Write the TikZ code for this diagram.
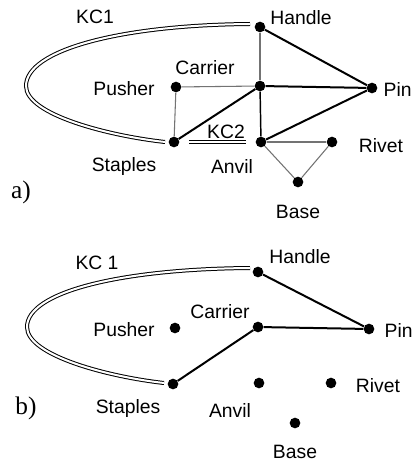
\documentclass[tikz,border=0pt]{standalone}
\usepackage{fontspec}
\setmainfont{Liberation Sans}
\newfontfamily\partfont{Liberation Serif}
\usetikzlibrary{positioning}
\tikzstyle{part} = [circle, fill=black, inner sep=0pt, minimum size=8pt]
\tikzstyle{partlbl} = [font=\fontsize{14.5}{16}\selectfont, inner sep=1pt]
\tikzstyle{tag} = [font=\partfont\fontsize{19}{21}\selectfont, inner sep=1pt]
\tikzstyle{strong} = [line width=1.5pt]
\tikzstyle{weak} = [line width=0.8pt, draw=black!55]
\tikzstyle{kc} = [double, double distance=1.5pt, line width=0.75pt]

\begin{document}
\begin{tikzpicture}[x=0.75pt, y=-0.75pt]
        \useasboundingbox (0,0) rectangle (412,463);

        % a) liaison graph
        \node (handle) [part] at (260,27) {};
        \node (pusher) [part] at (176,87) {};
        \node (carrier) [part] at (260,86) {};
        \node (pin) [part] at (372,88) {};
        \node (staples) [part] at (174,142) {};
        \node (anvil) [part] at (261,142) {};
        \node (rivet) [part] at (332,142) {};
        \node (base) [part] at (298,182) {};

        \node (kc1lbl) [partlbl] at (95,17) {KC1};
        \node (handlelbl) [partlbl] at (301,18) {Handle};
        \node (carrierlbl) [partlbl] at (205,68) {Carrier};
        \node (pusherlbl) [partlbl] at (124,89) {Pusher};
        \node (pinlbl) [partlbl, anchor=west] at (382,89) {Pin};
        \node (kc2lbl) [partlbl] at (226,132) {KC2};
        \node (rivetlbl) [partlbl] at (381,146) {Rivet};
        \node (stapleslbl) [partlbl] at (124,167) {Staples};
        \node (anvillbl) [partlbl] at (232,166) {Anvil};
        \node (baselbl) [partlbl] at (298,212) {Base};
        \node (taga) [tag] at (21,192) {a)};

        \coordinate (kc1start) at (250,24);
        \coordinate (kc1turn) at (26,86);
        \coordinate (kc1end) at (165,142);

        \draw [kc] (kc1start) .. controls (120,25) and (26,50) .. (kc1turn)
                   .. controls (26,115) and (110,136) .. (kc1end);
        \draw [kc, shorten <=7pt, shorten >=7pt] (staples) -- (anvil);

        \draw [weak] (handle) -- (carrier);
        \draw [strong] (handle) -- (pin);
        \draw [weak] (pusher) -- (carrier);
        \draw [weak] (pusher) -- (staples);
        \draw [strong] (carrier) -- (pin);
        \draw [strong] (staples) -- (carrier);
        \draw [strong, line width=1.1pt] (carrier) -- (anvil);
        \draw [strong] (anvil) -- (pin);
        \draw [weak] (anvil) -- (rivet);
        \draw [weak] (anvil) -- (base);
        \draw [weak] (rivet) -- (base);

        % b) liaison graph
        \node (handleb) [part] at (258,272) {};
        \node (pusherb) [part] at (175,328) {};
        \node (carrierb) [part] at (258,327) {};
        \node (pinb) [part] at (369,329) {};
        \node (staplesb) [part] at (173,384) {};
        \node (anvilb) [part] at (259,383) {};
        \node (rivetb) [part] at (331,383) {};
        \node (baseb) [part] at (295,423) {};

        \node (kc1lblb) [partlbl] at (97,263) {KC 1};
        \node (handlelblb) [partlbl] at (300,257) {Handle};
        \node (carrierlblb) [partlbl] at (220,312) {Carrier};
        \node (pusherlblb) [partlbl] at (124,330) {Pusher};
        \node (pinlblb) [partlbl, anchor=west] at (383,330) {Pin};
        \node (rivetlblb) [partlbl] at (378,386) {Rivet};
        \node (stapleslblb) [partlbl] at (128,408) {Staples};
        \node (anvillblb) [partlbl] at (230,410) {Anvil};
        \node (baselblb) [partlbl] at (295,452) {Base};
        \node (tagb) [tag] at (26,408) {b)};

        \coordinate (kc1startb) at (250,268);
        \coordinate (kc1turnb) at (27,327);
        \coordinate (kc1endb) at (164,383);

        \draw [kc] (kc1startb) .. controls (120,269) and (27,292) .. (kc1turnb)
                   .. controls (27,356) and (110,377) .. (kc1endb);

        \draw [strong] (handleb) -- (pinb);
        \draw [strong] (carrierb) -- (pinb);
        \draw [strong] (staplesb) -- (carrierb);
    \end{tikzpicture}
\end{document}
